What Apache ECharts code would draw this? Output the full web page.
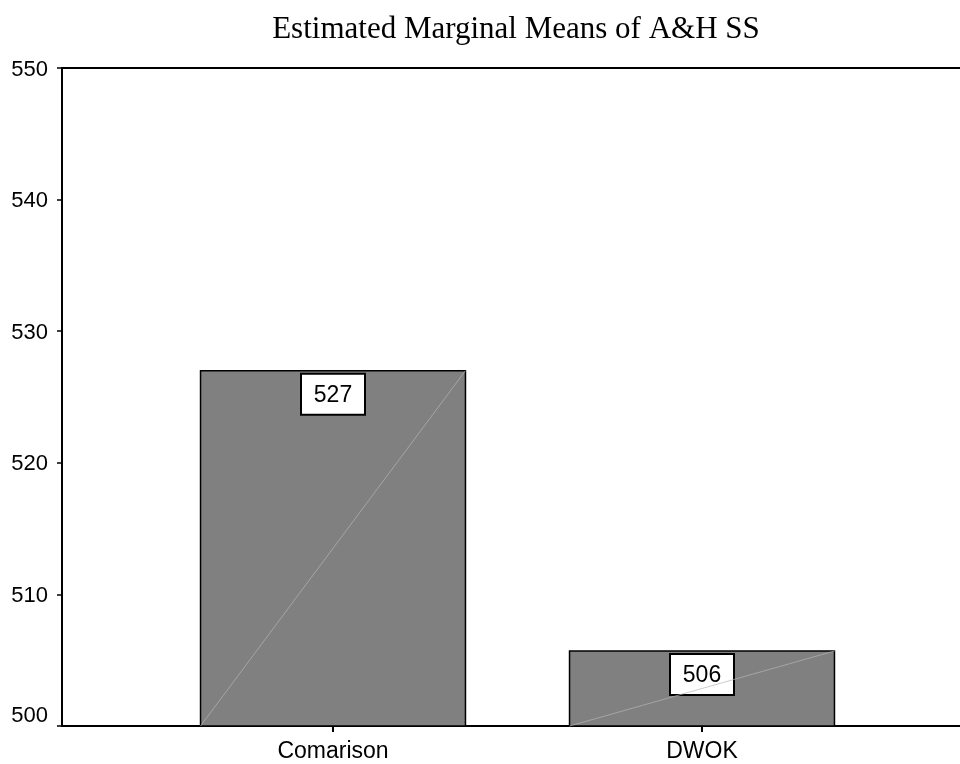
<!DOCTYPE html>
<html>
<head>
<meta charset="utf-8">
<script src="https://cdn.jsdelivr.net/npm/echarts@6/dist/echarts.min.js"></script>
<style>html,body{margin:0;padding:0;background:#fff}#c{width:960px;height:764px}</style>
</head>
<body>
<div id="c"></div>
<script>
const titleText = 'Estimated Marginal Means of A&H SS';
const categories = ['Comarison', 'DWOK'];
const means = [527.0, 505.7];
const valueLabels = ['527', '506'];
const yMin = 500, yMax = 550, yStep = 10;

const chart = echarts.init(document.getElementById('c'), null, {renderer: 'canvas'});
const sans = 'Liberation Sans, Arial, sans-serif';
const seriesData = means.map((v, i) => [i, v]);

chart.setOption({
  animation: false,
  backgroundColor: '#fff',
  title: {
    text: titleText, left: 511, top: 9, textAlign: 'center',
    textStyle: {fontFamily: 'Liberation Serif, Times New Roman, serif', fontWeight: 'normal', fontSize: 31, color: '#000'}
  },
  grid: [
    {left: 62, right: 0, top: 68, bottom: 38},
    {left: 148.5, width: 738, top: 68, bottom: 38}
  ],
  xAxis: [
    {gridIndex: 0, type: 'value', min: 0, max: 1, position: 'bottom',
     axisLine: {show: true, onZero: false, lineStyle: {color: '#000', width: 2}},
     axisTick: {show: false}, axisLabel: {show: false}, splitLine: {show: false}},
    {gridIndex: 0, type: 'value', min: 0, max: 1, position: 'top',
     axisLine: {show: true, onZero: false, lineStyle: {color: '#000', width: 2}},
     axisTick: {show: false}, axisLabel: {show: false}, splitLine: {show: false}},
    {gridIndex: 1, type: 'category', data: categories, position: 'bottom',
     axisLine: {show: false},
     axisTick: {show: true, alignWithLabel: true, length: 6, lineStyle: {color: '#000', width: 2}},
     axisLabel: {fontSize: 23, color: '#000', fontFamily: sans, margin: 14},
     splitLine: {show: false}}
  ],
  yAxis: [
    {gridIndex: 0, type: 'value', min: yMin, max: yMax, interval: yStep,
     axisLine: {show: true, onZero: false, lineStyle: {color: '#000', width: 2}},
     axisTick: {show: true, length: 5, lineStyle: {color: '#000', width: 1.5}},
     axisLabel: {
       fontSize: 22, color: '#000', fontFamily: sans, margin: 14,
       formatter: function (v) { return v === yMin ? '{m|' + v + '}' : '{n|' + v + '}'; },
       rich: {
         m: {fontSize: 22, color: '#000', fontFamily: sans, padding: [0, 0, 20, 0]},
         n: {fontSize: 22, color: '#000', fontFamily: sans, padding: [3, 0, 0, 0]}
       }
     },
     splitLine: {show: false}},
    {gridIndex: 1, type: 'value', min: yMin, max: yMax, interval: yStep, show: false}
  ],
  series: [{
    type: 'custom',
    xAxisIndex: 2, yAxisIndex: 1,
    data: seriesData,
    clip: false,
    renderItem: function (params, api) {
      const idx = api.value(0), v = api.value(1);
      const top = api.coord([idx, v]);
      const base = api.coord([idx, yMin]);
      const bw = api.size([1, 0])[0] * 0.718;
      const x0 = top[0] - bw / 2, x1 = top[0] + bw / 2;
      const boxW = 64, boxH = 41;
      return {
        type: 'group',
        children: [
          {type: 'rect', shape: {x: x0, y: top[1], width: bw, height: base[1] - top[1]},
           style: {fill: '#808080', stroke: '#000', lineWidth: 1.5}},
          {type: 'rect', shape: {x: top[0] - boxW / 2, y: top[1] + 3, width: boxW, height: boxH},
           style: {fill: '#fff', stroke: '#000', lineWidth: 2}},
          {type: 'text', x: top[0], y: top[1] + 4 + boxH / 2,
           style: {text: valueLabels[params.dataIndex], fill: '#000', font: '23px ' + sans, align: 'center', verticalAlign: 'middle'}},
          {type: 'line', shape: {x1: x0, y1: base[1], x2: x1, y2: top[1]},
           style: {stroke: '#b4b4b4', lineWidth: 0.7}}
        ]
      };
    }
  }]
});
</script>
</body>
</html>
